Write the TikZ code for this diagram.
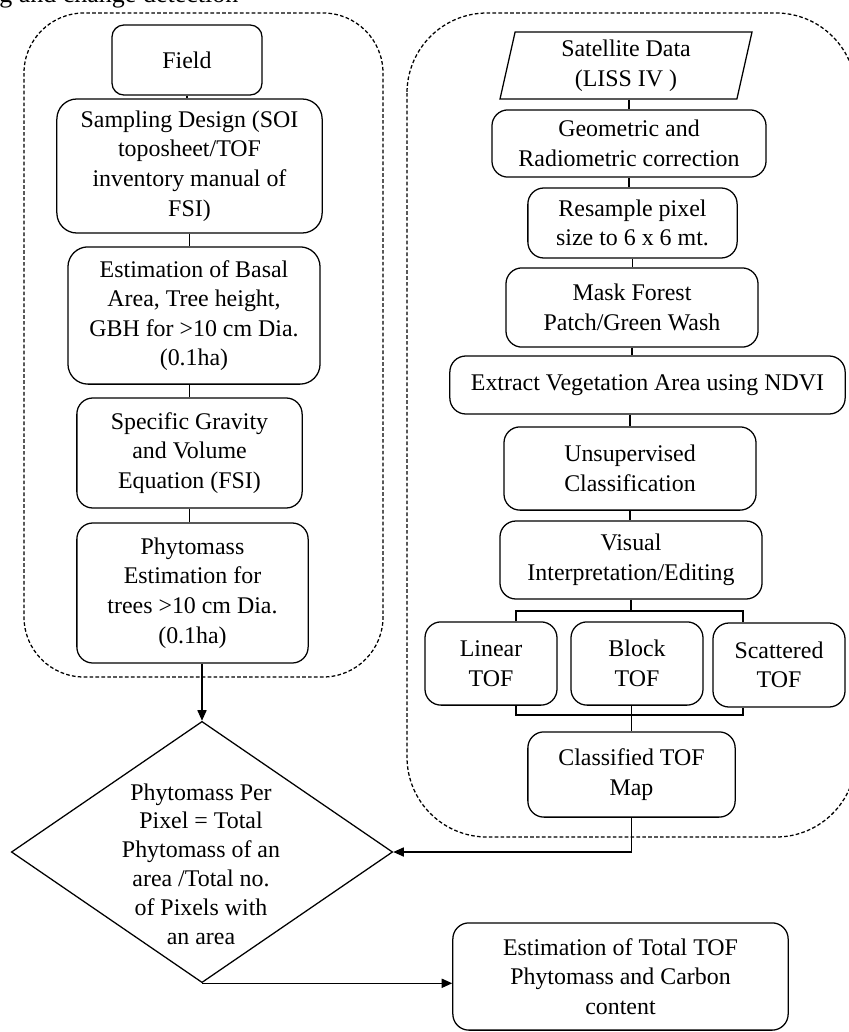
\documentclass[tikz,border=0pt]{standalone}
\usepackage{fontspec}
\setmainfont{Liberation Serif}
\usetikzlibrary{shapes.geometric,arrows.meta}
\begin{document}
\begin{tikzpicture}[x=0.025cm,y=-0.025cm,>={Triangle[length=7.5pt,width=6.5pt]},
 box/.style={draw,line width=0.9pt,rounded corners=0.4cm,align=center,inner sep=1pt,font=\fontsize{17}{21}\selectfont},
 frame/.style={draw,line width=0.9pt,dash pattern=on 2.6pt off 1.6pt},
 link/.style={draw,line width=0.9pt}]
 \useasboundingbox (0,0) rectangle (848,1032);
 \node[anchor=base west,inner sep=0,font=\fontsize{18.5}{22}\selectfont] (caption) at (-1,3) {g and change detection};
 \draw[frame,rounded corners=1.5cm] (24,13) rectangle (383,677);
 \draw[frame,rounded corners=2cm] (407,13) rectangle (856,837);
 \node[box,rounded corners=0.3cm,minimum width=3.75cm,minimum height=1.75cm] (field) at (187,60) {Field};
 \node[box,rounded corners=0.5cm,minimum width=6.63cm,minimum height=3.35cm] (sampling) at (189.5,166) {Sampling Design (SOI\\toposheet/TOF\\inventory manual of\\FSI)};
 \node[box,rounded corners=0.5cm,minimum width=6.3cm,minimum height=3.43cm] (basal) at (194,315.5) {Estimation of Basal\\Area, Tree height,\\GBH for >10 cm Dia.\\(0.1ha)};
 \node[box,minimum width=5.63cm,minimum height=2.75cm] (gravity) at (189.5,453) {Specific Gravity\\and Volume\\Equation (FSI)};
 \node[box,minimum width=5.78cm,minimum height=3.5cm] (treemass) at (192.5,593) {Phytomass\\Estimation for\\trees >10 cm Dia.\\(0.1ha)};
 \node[draw,line width=0.9pt,diamond,inner sep=0,minimum width=9.53cm,minimum height=6.53cm] (perpix) at (202,852) {};
 \node[align=center,inner sep=0,font=\fontsize{17}{20.5}\selectfont] (perpixtext) at (201,864) {Phytomass Per\\Pixel = Total\\Phytomass of an\\area /Total no.\\of Pixels with\\an area};
 \node[box,sharp corners,trapezium,trapezium left angle=80.5,trapezium right angle=99.5,trapezium stretches=true,minimum width=6.3cm,minimum height=1.68cm] (satdata) at (626,65.5) {Satellite Data\\(LISS IV )};
 \node[box,minimum width=6.85cm,minimum height=1.68cm] (geocorr) at (629,143.5) {Geometric and\\Radiometric correction};
 \node[box,minimum width=5.23cm,minimum height=1.75cm] (resample) at (632.5,223) {Resample pixel\\size to 6 x 6 mt.};
 \node[box,minimum width=6.3cm,minimum height=1.98cm] (mask) at (632,307.5) {Mask Forest\\Patch/Green Wash};
 \node[box,minimum width=9.88cm,minimum height=1.45cm] (ndvi) at (647.5,385) {Extract Vegetation Area using NDVI};
 \node[box,minimum width=6.3cm,minimum height=2.08cm] (unsup) at (630,468.5) {Unsupervised\\Classification};
 \node[box,minimum width=6.55cm,minimum height=1.95cm] (visual) at (631,560) {Visual\\Interpretation/Editing};
 \node[box,minimum width=3.3cm,minimum height=2.08cm] (linear) at (491,663.5) {Linear\\TOF};
 \node[box,minimum width=3.3cm,minimum height=2.08cm] (block) at (637,663.5) {Block\\TOF};
 \node[box,minimum width=3.3cm,minimum height=2.1cm] (scattered) at (779,665) {Scattered\\TOF};
 \node[box,minimum width=5.18cm,minimum height=2.13cm] (classified) at (631.5,774.5) {Classified TOF\\Map};
 \node[box,minimum width=8.38cm,minimum height=2.68cm] (total) at (620.5,976.5) {Estimation of Total TOF\\Phytomass and Carbon\\content};
 \coordinate (splitL) at (516,611);
 \coordinate (splitR) at (743,611);
 \coordinate (joinL) at (516,715);
 \coordinate (joinR) at (743,715);
 \draw[link] (field.south) -- (field.south |- sampling.north);
 \draw[link] (sampling.south) -- (sampling.south |- basal.north);
 \draw[link] (gravity.north |- basal.south) -- (gravity.north);
 \draw[link] (gravity.south) -- (gravity.south |- treemass.north);
 \draw[link,->] (treemass.south -| perpix.north) -- (perpix.north);
 \draw[link] (geocorr.north |- satdata.south) -- (geocorr.north);
 \draw[link] (geocorr.south) -- (geocorr.south |- resample.north);
 \draw[link] (resample.south) -- (resample.south |- mask.north);
 \draw[link] (mask.south) -- (mask.south |- ndvi.north);
 \draw[link] (unsup.north |- ndvi.south) -- (unsup.north);
 \draw[link] (unsup.south) -- (unsup.south |- visual.north);
 \draw[link] (visual.south) -- (visual.south |- splitL);
 \draw[link] (splitL |- linear.north) -- (splitL) -- (splitR) -- (splitR |- scattered.north);
 \draw[link] (joinL |- linear.south) -- (joinL) -- (joinR) -- (joinR |- scattered.south);
 \draw[link] (classified.north |- block.south) -- (classified.north);
 \draw[link,->] (classified.south) |- (perpix.east);
 \draw[link,->] (perpix.south) -- (perpix.south -| total.west);
\end{tikzpicture}
\end{document}
